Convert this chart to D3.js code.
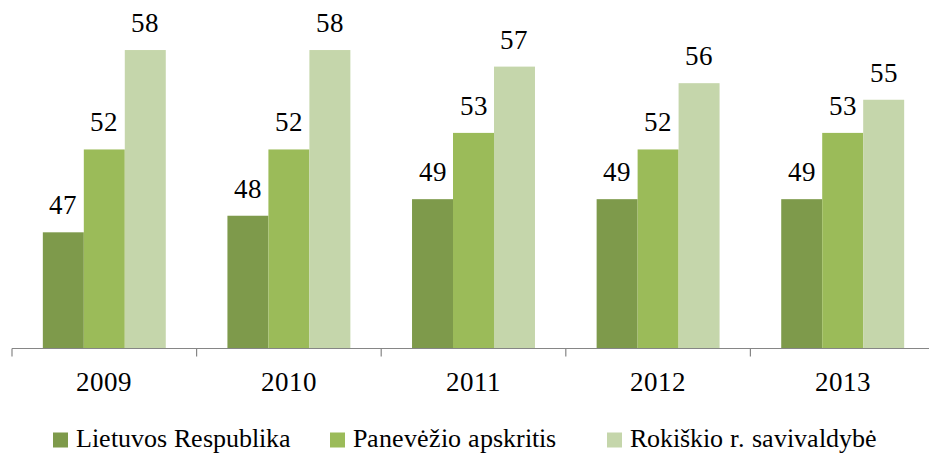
<!DOCTYPE html>
<html><head><meta charset="utf-8">
<script src="https://cdn.jsdelivr.net/npm/d3@7"></script>
<style>
@font-face{font-family:"ChartSerif";src:local("Liberation Serif"),local("LiberationSerif"),local("Liberation Serif Regular"),local("LiberationSerif-Regular"),local("Times New Roman");}
body{margin:0;background:#fff}svg{display:block}
</style>
</head><body>
<svg id="c" width="929" height="454"></svg>
<script>
const years = ["2009","2010","2011","2012","2013"];
const seriesNames = ["Lietuvos Respublika","Panevėžio apskritis","Rokiškio r. savivaldybė"];
const lietuvos = [47,48,49,49,49];
const panevezio = [52,52,53,52,53];
const rokiskio = [58,58,57,56,55];
const colors = ["#7E9A4B","#9BBB59","#C5D6AB"];
const series = [lietuvos, panevezio, rokiskio];

const svg = d3.select("#c");
const x = d3.scaleBand().domain(years).range([12, 935]).paddingInner(0.334).paddingOuter(0.167);
const xs = d3.scaleBand().domain(d3.range(3)).range([0, x.bandwidth()]);
const y = d3.scaleLinear().domain([40, 60]).range([348.3, 16.9]);

function T(sel, size){
  sel.node().style.setProperty("font-family", "ChartSerif, \"Liberation Serif\", serif", "important");
  sel.node().style.setProperty("font-size", size + "px", "important");
  return sel.attr("fill", "#000");
}

const g = svg.append("g");
years.forEach((yr, i) => {
  series.forEach((s, j) => {
    const v = s[i];
    g.append("rect")
      .attr("x", x(yr) + xs(j))
      .attr("y", y(v))
      .attr("width", xs.bandwidth())
      .attr("height", y(40) - y(v))
      .attr("fill", colors[j]);
    T(g.append("text"), 27)
      .attr("x", x(yr) + xs(j) + xs.bandwidth()/2)
      .attr("y", y(v) - 18)
      .attr("text-anchor", "middle")
      .text(v);
  });
});

const ax = svg.append("g").attr("transform", "translate(0,348.5)");
ax.append("line").attr("x1", 12).attr("x2", 935).attr("stroke", "#868686").attr("stroke-width", 1.2);
years.forEach((yr, i) => {
  const tx = x(yr) - (x.step() - x.bandwidth())/2;
  ax.append("line").attr("x1", tx).attr("x2", tx).attr("y1", 0).attr("y2", 8).attr("stroke", "#868686").attr("stroke-width", 1.2);
  T(ax.append("text"), 27).attr("x", x(yr) + x.bandwidth()/2).attr("y", 42.5)
    .attr("text-anchor", "middle").text(yr);
});

const legendX = d3.scalePoint().domain(seriesNames).range([53, 607]);
const lg = svg.append("g");
seriesNames.forEach((n, j) => {
  const lx = legendX(n);
  lg.append("rect").attr("x", lx).attr("y", 432.5).attr("width", 15).attr("height", 15).attr("fill", colors[j]);
  T(lg.append("text"), 26).attr("x", lx + 23).attr("y", 447).text(n);
});
</script>
</body></html>
